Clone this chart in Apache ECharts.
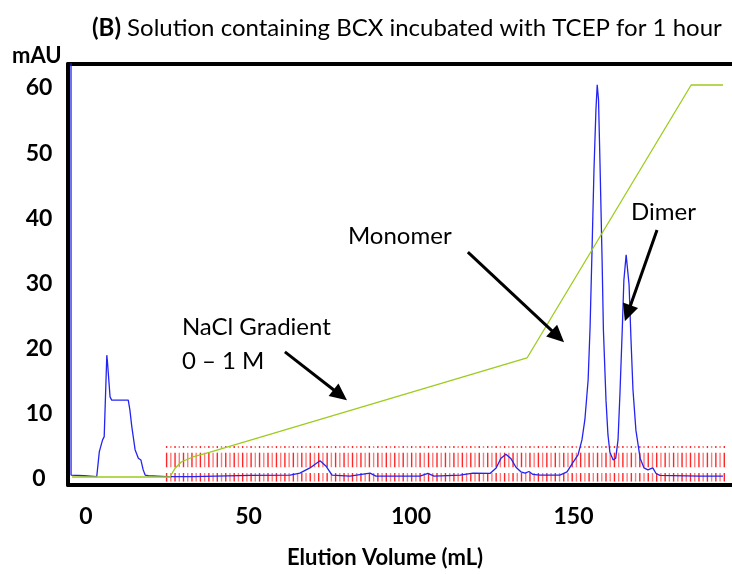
<!DOCTYPE html>
<html>
<head>
<meta charset="utf-8">
<script src="https://cdn.jsdelivr.net/npm/echarts@6/dist/echarts.min.js"></script>
<style>
  html, body { margin: 0; padding: 0; background: #fff; }
  #chart { width: 732px; height: 574px; }
</style>
</head>
<body>
<div id="chart"></div>
<script>
// UV absorbance trace (mL, mAU)
const elutionVolume = [
  -4.62, -4.6, -0.6, -0.3, 3.3, 4.1, 5.1, 5.6, 6.4, 6.6, 7.4, 7.9, 13.0, 13.5, 14.1, 15.1,
  16.1, 16.9, 17.6, 18.2, 19.2, 24.8, 32.9, 33.2, 50.5, 62.8, 65.8, 68.9, 72.0, 73.8, 75.7,
  81.2, 87.4, 89.2, 102.8, 105.2, 107.1, 115.1, 119.1, 124.3, 126.2, 127.7, 129.2, 130.8,
  132.3, 133.8, 135.1, 136.3, 137.5, 139.7, 145.8, 148.0, 149.8, 151.4, 152.6, 153.5, 154.5,
  155.1, 155.7, 156.3, 156.9, 157.3, 157.7, 158.2, 158.8, 159.2, 160.0, 160.6, 161.2, 162.2,
  163.0, 163.7, 164.3, 165.0, 165.5, 166.2, 166.6, 167.1, 167.7, 168.3, 169.2, 170.5, 171.7,
  172.9, 174.4, 175.4, 176.6, 188.9, 196.0
];
const absorbance = [
  90, 0.6, 0.5, 0.35, 0.35, 4.2, 6.0, 6.5, 19.0, 18.0, 12.6, 12.1, 12.1, 10.6, 8.0, 4.5,
  3.2, 2.9, 1.4, 0.6, 0.5, 0.35, 0.35, 0.5, 0.55, 0.6, 0.9, 1.7, 2.8, 2.0, 0.6,
  0.45, 0.9, 0.45, 0.45, 0.85, 0.45, 0.6, 0.9, 0.85, 1.7, 3.2, 3.8, 3.1,
  1.8, 1.1, 0.9, 1.15, 0.7, 0.6, 0.6, 1.1, 2.5, 3.7, 6.0, 9.1, 15.2,
  23.3, 35.1, 47.4, 56.6, 60.5, 58.2, 47.4, 33.6, 22.9, 12.1, 6.8, 4.1, 2.9,
  3.2, 6.0, 13.2, 22.9, 30.5, 34.4, 34.2, 29.8, 21.3, 13.7, 7.5, 3.2, 1.7,
  1.4, 1.7, 0.85, 0.55, 0.45, 0.45
];

// NaCl gradient trace, drawn on the mAU scale
const gradientVolume = [-4.3, 25.8, 27.4, 29.4, 32.9, 38.2, 135.7, 186.2, 196.0];
const gradientLevel  = [0.31, 0.31, 1.64, 2.65, 3.38, 4.14, 18.57, 60.46, 60.46];

// Fraction collector marks (mL)
const fractionMarks = [
  24.8, 26.1, 27.4, 28.7, 30.0, 31.3, 32.6, 33.9, 35.2, 36.5, 37.8, 39.1, 40.4, 41.7, 43.0,
  44.3, 45.6, 46.9, 48.2, 49.5, 50.8, 52.1, 53.4, 54.7, 56.0, 57.3, 58.6, 59.9, 61.2, 62.5,
  63.8, 65.1, 66.4, 67.7, 69.0, 70.3, 71.6, 72.9, 74.2, 75.5, 76.8, 78.1, 79.4, 80.7, 82.0,
  83.3, 84.6, 85.9, 87.2, 88.5, 89.8, 91.1, 92.4, 93.7, 95.0, 96.3, 97.6, 98.9, 100.2, 101.5,
  102.8, 104.1, 105.4, 106.7, 108.0, 109.3, 110.6, 111.9, 113.2, 114.5, 115.8, 117.1, 118.4,
  119.7, 121.0, 122.3, 123.6, 124.9, 126.2, 127.5, 128.8, 130.1, 131.4, 132.7, 134.0, 135.3,
  136.6, 137.9, 139.2, 140.5, 141.8, 143.1, 144.4, 145.7, 147.0, 148.3, 149.6, 150.9, 152.2,
  153.5, 154.8, 156.1, 157.4, 158.7, 160.0, 161.3, 162.6, 163.9, 165.2, 166.5, 167.8, 169.1,
  170.4, 171.7, 173.0, 174.3, 175.6, 176.9, 178.2, 179.5, 180.8, 182.1, 183.4, 184.7, 186.0,
  187.3, 188.6, 189.9, 191.2, 192.5, 193.8, 195.1, 196.4
];

const xTickValues = [0, 50, 100, 150];
const yTickValues = [0, 10, 20, 30, 40, 50, 60];

const titleBold = '(B)';
const titleText = ' Solution containing BCX incubated with TCEP for 1 hour';
const xAxisTitle = 'Elution Volume (mL)';
const yAxisTitle = 'mAU';

// Callout labels and arrows, anchored in data units (mL, mAU)
const labelTexts = ['NaCl Gradient', '0 \u2013 1 M', 'Monomer', 'Dimer'];
const labelAnchors = [[29.5, 23.3], [29.5, 18.0], [80.6, 37.3], [167.7, 40.9]];
const arrowTails = [[61.2, 19.5], [117.5, 34.8], [175.7, 38.2]];
const arrowHeads = [[80.3, 12.1], [147.1, 21.0], [165.8, 24.2]];

const FONT = 'Lato, Carlito, "Open Sans", sans-serif';
const X_MIN = -5.54, X_MAX = 198.77, Y_MIN = -0.92, Y_MAX = 63.68;

// vertical pieces of each fraction mark (mAU)
const markPieces = [[5.06, 4.75], [4.04, 1.8], [0.92, -0.4]];

const chart = echarts.init(document.getElementById('chart'), null, { renderer: 'canvas' });

const option = {
  animation: false,
  backgroundColor: '#fff',
  grid: { left: 68, right: 0, top: 64, bottom: 89 },
  xAxis: [
    {
      type: 'value', min: X_MIN, max: X_MAX, position: 'bottom',
      axisLine: { show: true, onZero: false, lineStyle: { color: '#000', width: 4 } },
      axisTick: { show: false }, splitLine: { show: false },
      axisLabel: {
        customValues: xTickValues, margin: 20, color: '#000',
        fontFamily: FONT, fontWeight: 'bold', fontSize: 23
      }
    },
    {
      type: 'value', min: X_MIN, max: X_MAX, position: 'top',
      axisLine: { show: true, onZero: false, lineStyle: { color: '#000', width: 4 } },
      axisTick: { show: false }, splitLine: { show: false }, axisLabel: { show: false }
    }
  ],
  yAxis: {
    type: 'value', min: Y_MIN, max: Y_MAX,
    axisLine: { show: true, onZero: false, lineStyle: { color: '#000', width: 4 } },
    axisTick: { show: false }, splitLine: { show: false },
    axisLabel: {
      customValues: yTickValues, margin: 29, align: 'center', color: '#000',
      fontFamily: FONT, fontWeight: 'bold', fontSize: 23
    }
  },
  series: [
    {
      type: 'custom', name: 'fractions', z: 1, clip: true,
      data: fractionMarks.map(v => [v, 0]),
      encode: { x: 0, y: 1 },
      renderItem: function (params, api) {
        const v = api.value(0);
        const stroke = params.dataIndex % 2 ? '#ff7a7a' : '#ff2626';
        return {
          type: 'group',
          children: markPieces.map(p => {
            const a = api.coord([v, p[0]]);
            const b = api.coord([v, p[1]]);
            return {
              type: 'line',
              shape: { x1: a[0], y1: a[1], x2: a[0], y2: b[1] },
              style: { stroke: stroke, fill: null, lineWidth: 1.4 }
            };
          })
        };
      }
    },
    {
      type: 'line', name: 'UV', z: 3, showSymbol: false, clip: true,
      data: elutionVolume.map((v, i) => [v, absorbance[i]]),
      lineStyle: { color: '#2424f2', width: 1.3 }
    },
    {
      type: 'line', name: 'NaCl', z: 4, showSymbol: false, clip: true,
      data: gradientVolume.map((v, i) => [v, gradientLevel[i]]),
      lineStyle: { color: '#9ccc1c', width: 1.3 }
    }
  ]
};

chart.setOption(option);

// Titles, callout labels and arrows
const px = p => chart.convertToPixel({ xAxisIndex: 0, yAxisIndex: 0 }, p);
const graphics = [
  {
    type: 'text', left: 92, top: 16,
    style: {
      text: '{b|' + titleBold + '}{r|' + titleText + '}',
      rich: {
        b: { fontFamily: FONT, fontWeight: 'bold', fontSize: 24, fill: '#000' },
        r: { fontFamily: FONT, fontSize: 24, fill: '#000' }
      }
    }
  },
  {
    type: 'text', left: 12, top: 45,
    style: { text: yAxisTitle, fontFamily: FONT, fontWeight: 'bold', fontSize: 22, fill: '#000' }
  },
  {
    type: 'text', x: 385, y: 558,
    style: {
      text: xAxisTitle, fontFamily: FONT, fontWeight: 'bold', fontSize: 22, fill: '#000',
      align: 'center', verticalAlign: 'middle'
    }
  }
];
labelTexts.forEach((t, i) => {
  const p = px(labelAnchors[i]);
  graphics.push({
    type: 'text', x: p[0], y: p[1],
    style: { text: t, fontFamily: FONT, fontSize: 24, fill: '#000', align: 'left', verticalAlign: 'middle' }
  });
});
arrowTails.forEach((tail, i) => {
  const a = px(tail), b = px(arrowHeads[i]);
  const dx = b[0] - a[0], dy = b[1] - a[1];
  const len = Math.sqrt(dx * dx + dy * dy);
  const ux = dx / len, uy = dy / len;
  const headLen = 17, headHalf = 8;
  const bx = b[0] - ux * headLen, by = b[1] - uy * headLen;
  graphics.push({
    type: 'line', z: 10,
    shape: { x1: a[0], y1: a[1], x2: bx + ux * 2, y2: by + uy * 2 },
    style: { stroke: '#000', lineWidth: 3 }
  });
  graphics.push({
    type: 'polygon', z: 10,
    shape: { points: [[b[0], b[1]], [bx - uy * headHalf, by + ux * headHalf], [bx + uy * headHalf, by - ux * headHalf]] },
    style: { fill: '#000' }
  });
});
chart.setOption({ graphic: graphics });
</script>
</body>
</html>
